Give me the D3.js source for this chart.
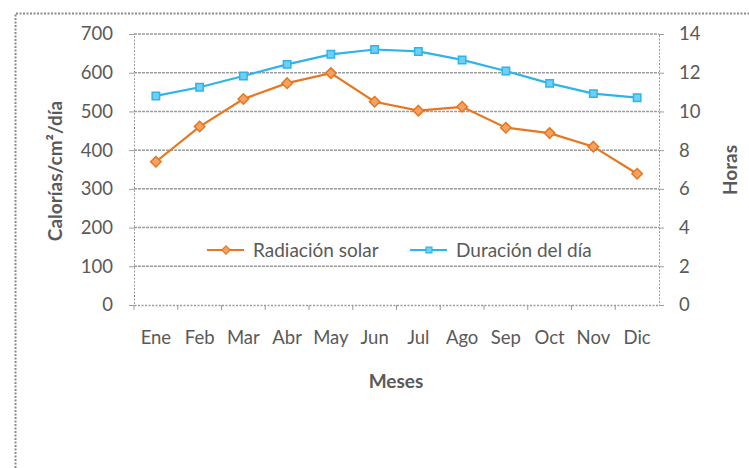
<!DOCTYPE html>
<html>
<head>
<meta charset="utf-8">
<script src="https://cdn.jsdelivr.net/npm/d3@7"></script>
<style>
  body { margin: 0; background: #fff; }
  text { font-family: Lato, "Open Sans", sans-serif; fill: #595959; }
</style>
</head>
<body>
<svg id="chart" width="749" height="468"></svg>
<script>
const months = ["Ene", "Feb", "Mar", "Abr", "May", "Jun", "Jul", "Ago", "Sep", "Oct", "Nov", "Dic"];
const radiacion = [370, 461, 532, 573, 599, 525, 502, 512, 458, 444, 409, 339];
const duracion = [10.8, 11.25, 11.83, 12.43, 12.95, 13.2, 13.1, 12.66, 12.09, 11.45, 10.92, 10.71];
const leftTicks = [0, 100, 200, 300, 400, 500, 600, 700];
const rightTicks = [0, 2, 4, 6, 8, 10, 12, 14];

const svg = d3.select("#chart");

// plot area
const margin = { top: 34, right: 90, bottom: 163, left: 134 };
const width = 749 - margin.left - margin.right;
const height = 468 - margin.top - margin.bottom;

const orange = "#E8761E";
const blue = "#2DB4EA";
const grid = "#9c9c9c";

// outer chart border (only top and left visible)
svg.append("path")
  .attr("d", "M15.5,468 V13.5 H749")
  .attr("fill", "none")
  .attr("stroke", "#8a8a8a")
  .attr("stroke-width", 2)
  .attr("stroke-dasharray", "2,1.5");

const g = svg.append("g").attr("transform", `translate(${margin.left},${margin.top})`);

const x = d3.scaleBand().domain(months).range([0, width]);
const yL = d3.scaleLinear().domain([0, 700]).range([height, 0]);
const yR = d3.scaleLinear().domain([0, 14]).range([height, 0]);

// horizontal gridlines
g.selectAll(".grid")
  .data(leftTicks.slice(1))
  .enter()
  .append("line")
  .attr("x1", 0)
  .attr("x2", width)
  .attr("y1", (d) => yL(d))
  .attr("y2", (d) => yL(d))
  .attr("stroke", grid)
  .attr("stroke-width", 1.5)
  .attr("stroke-dasharray", "3,1");

// left axis
const leftAxis = g.append("g")
  .call(d3.axisLeft(yL).tickValues(leftTicks).tickSize(5).tickPadding(16));
leftAxis.select(".domain").attr("stroke", grid).attr("stroke-dasharray", "2,1.5");
leftAxis.selectAll(".tick line").attr("stroke", grid);
leftAxis.selectAll("text").style("font-size", "18.5px").attr("fill", "#595959");

// right axis
const rightAxis = g.append("g")
  .attr("transform", `translate(${width},0)`)
  .call(d3.axisRight(yR).tickValues(rightTicks).tickSize(5).tickPadding(15));
rightAxis.select(".domain").attr("stroke", grid).attr("stroke-dasharray", "2,1.5");
rightAxis.selectAll(".tick line").attr("stroke", grid);
rightAxis.selectAll("text").style("font-size", "18.5px").attr("fill", "#595959");

// bottom axis
const bottomAxis = g.append("g")
  .attr("transform", `translate(0,${height})`)
  .call(d3.axisBottom(x).tickSize(0).tickPadding(26));
bottomAxis.select(".domain").attr("stroke", grid).attr("stroke-width", 1.5).attr("stroke-dasharray", "2,1.5");
bottomAxis.selectAll("text").style("font-size", "18.5px").attr("fill", "#595959");

// category separators on the x axis
g.selectAll(".xtick")
  .data(months)
  .enter()
  .append("line")
  .attr("x1", (d) => x(d))
  .attr("x2", (d) => x(d))
  .attr("y1", height)
  .attr("y2", height + 5)
  .attr("stroke", grid);

// lines
const lineL = d3.line()
  .x((d, i) => x(months[i]) + x.bandwidth() / 2)
  .y((d) => yL(d));
const lineR = d3.line()
  .x((d, i) => x(months[i]) + x.bandwidth() / 2)
  .y((d) => yR(d));

g.append("path")
  .datum(duracion)
  .attr("d", lineR)
  .attr("fill", "none")
  .attr("stroke", blue)
  .attr("stroke-width", 2.2);

g.append("path")
  .datum(radiacion)
  .attr("d", lineL)
  .attr("fill", "none")
  .attr("stroke", orange)
  .attr("stroke-width", 2.2);

// markers
const diamond = d3.symbol().type(d3.symbolDiamond2).size(70);
const square = d3.symbol().type(d3.symbolSquare).size(55);

g.selectAll(".mR")
  .data(duracion)
  .enter()
  .append("path")
  .attr("d", square)
  .attr("transform", (d, i) => `translate(${x(months[i]) + x.bandwidth() / 2},${yR(d)})`)
  .attr("fill", "#6fd0f5")
  .attr("stroke", blue)
  .attr("stroke-width", 1.5);

g.selectAll(".mL")
  .data(radiacion)
  .enter()
  .append("path")
  .attr("d", diamond)
  .attr("transform", (d, i) => `translate(${x(months[i]) + x.bandwidth() / 2},${yL(d)})`)
  .attr("fill", "#f3a263")
  .attr("stroke", orange)
  .attr("stroke-width", 1.5);

// legend
const legendItems = [
  { name: "Radiación solar", color: orange, fill: "#f3a263", sym: diamond, x: 207 },
  { name: "Duración del día", color: blue, fill: "#6fd0f5", sym: square, x: 410 },
];
const legend = svg.selectAll(".legend")
  .data(legendItems)
  .enter()
  .append("g")
  .attr("transform", (d) => `translate(${d.x},250)`);
legend.append("line")
  .attr("x1", 0).attr("x2", 37)
  .attr("stroke", (d) => d.color)
  .attr("stroke-width", 2.2);
legend.append("path")
  .attr("d", (d) => d.sym())
  .attr("transform", "translate(19,0) scale(0.8)")
  .attr("fill", (d) => d.fill)
  .attr("stroke", (d) => d.color)
  .attr("stroke-width", 1.5);
legend.append("text")
  .attr("x", 46)
  .attr("dy", "0.35em")
  .style("font-size", "19px")
  .text((d) => d.name);

// axis titles
svg.append("text")
  .attr("transform", "translate(62,171) rotate(-90)")
  .attr("text-anchor", "middle")
  .style("font-size", "19px")
  .style("font-weight", "bold")
  .text("Calorías/cm²/día");

svg.append("text")
  .attr("transform", "translate(737,170) rotate(-90)")
  .attr("text-anchor", "middle")
  .style("font-size", "19px")
  .style("font-weight", "bold")
  .text("Horas");

svg.append("text")
  .attr("x", 396)
  .attr("y", 388)
  .attr("text-anchor", "middle")
  .style("font-size", "19px")
  .style("font-weight", "bold")
  .text("Meses");
</script>
</body>
</html>
